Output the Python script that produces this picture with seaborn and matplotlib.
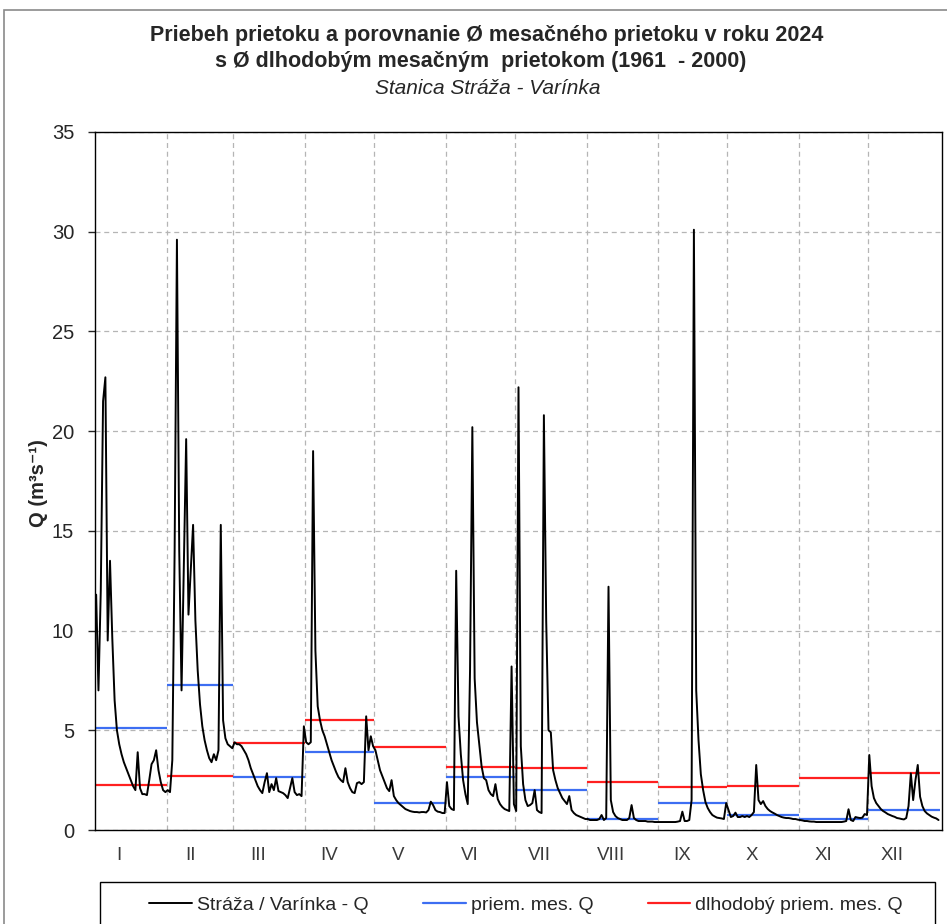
import numpy as np
import pandas as pd
import matplotlib.pyplot as plt
import seaborn as sns
from matplotlib.lines import Line2D
from matplotlib.patches import Rectangle
import matplotlib.transforms as mtransforms

# denne prietoky Q (m3/s), rok 2024
months = ['I', 'II', 'III', 'IV', 'V', 'VI', 'VII', 'VIII', 'IX', 'X', 'XI', 'XII']
days_in_month = [31, 29, 31, 30, 31, 30, 31, 31, 30, 31, 30, 31]

q_jan = [11.8, 7.0, 12.0, 21.5, 22.7, 9.5, 13.5, 9.6, 6.5, 5.0, 4.3, 3.8, 3.4, 3.1, 2.8, 2.5,
         2.2, 2.0, 3.9, 2.1, 1.8, 1.8, 1.75, 2.5, 3.3, 3.5, 4.0, 3.0, 2.4, 2.0, 1.9]
q_feb = [2.0, 1.9, 3.5, 14.0, 29.6, 14.0, 7.0, 13.2, 19.6, 10.8, 13.0, 15.3, 10.5, 8.0, 6.3,
         5.2, 4.5, 4.0, 3.6, 3.4, 3.8, 3.5, 4.0, 15.3, 5.5, 4.6, 4.3, 4.2, 4.1]
q_mar = [4.4, 4.3, 4.3, 4.2, 4.0, 3.8, 3.5, 3.1, 2.8, 2.5, 2.2, 2.0, 1.85, 2.4, 2.85, 1.9,
         2.3, 2.0, 2.6, 1.95, 1.9, 1.85, 1.75, 1.6, 2.1, 2.6, 1.9, 1.75, 1.8, 1.7, 5.2]
q_apr = [4.4, 4.3, 4.4, 19.0, 9.0, 6.2, 5.5, 5.0, 4.7, 4.3, 3.9, 3.5, 3.2, 2.9, 2.65, 2.5,
         2.4, 3.1, 2.4, 2.1, 1.9, 1.85, 2.35, 2.4, 2.3, 2.4, 5.7, 4.0, 4.7, 4.2]
q_may = [4.0, 3.5, 3.0, 2.7, 2.4, 2.1, 1.95, 2.5, 1.7, 1.5, 1.35, 1.25, 1.15, 1.05, 1.0, 0.95,
         0.92, 0.9, 0.9, 0.88, 0.9, 0.9, 0.88, 1.0, 1.42, 1.25, 1.0, 0.92, 0.9, 0.85, 0.85]
q_jun = [2.4, 1.2, 1.05, 1.0, 13.0, 5.7, 3.8, 2.5, 1.8, 1.3, 8.0, 20.2, 7.6, 5.4, 4.3, 3.2,
         2.6, 2.5, 2.0, 1.8, 1.7, 2.3, 1.55, 1.3, 1.15, 1.05, 1.0, 0.95, 8.2, 1.3]
q_jul = [0.95, 22.2, 4.2, 2.3, 1.5, 1.2, 1.25, 1.35, 2.0, 1.0, 0.9, 0.85, 20.8, 10.5, 5.0, 4.9,
         3.0, 2.5, 2.1, 1.85, 1.6, 1.45, 1.3, 1.7, 1.0, 0.85, 0.75, 0.7, 0.65, 0.6, 0.55]
q_aug = [0.55, 0.5, 0.5, 0.5, 0.5, 0.55, 0.75, 0.5, 0.6, 12.2, 1.5, 0.9, 0.7, 0.6, 0.55, 0.5,
         0.5, 0.5, 0.6, 1.25, 0.6, 0.5, 0.45, 0.45, 0.45, 0.45, 0.42, 0.42, 0.42, 0.4, 0.4]
q_sep = [0.4, 0.4, 0.4, 0.4, 0.4, 0.4, 0.4, 0.4, 0.42, 0.45, 0.92, 0.45, 0.45, 0.5, 1.5, 30.1,
         7.0, 4.5, 2.8, 2.0, 1.4, 1.1, 0.9, 0.75, 0.68, 0.62, 0.6, 0.58, 0.55, 1.35]
q_oct = [1.0, 0.65, 0.7, 0.87, 0.65, 0.65, 0.7, 0.65, 0.7, 0.65, 0.75, 0.9, 3.26, 1.5, 1.3, 1.45,
         1.2, 1.05, 0.95, 0.88, 0.82, 0.75, 0.7, 0.65, 0.62, 0.6, 0.6, 0.58, 0.55, 0.55, 0.52]
q_nov = [0.5, 0.48, 0.45, 0.45, 0.43, 0.42, 0.42, 0.4, 0.4, 0.4, 0.4, 0.4, 0.4, 0.4, 0.4, 0.4,
         0.4, 0.4, 0.4, 0.42, 0.45, 1.04, 0.5, 0.45, 0.65, 0.62, 0.6, 0.62, 0.8, 0.75]
q_dec = [3.76, 2.2, 1.6, 1.35, 1.2, 1.05, 0.95, 0.88, 0.8, 0.75, 0.7, 0.66, 0.6, 0.58, 0.55, 0.53,
         0.6, 1.2, 2.84, 1.5, 2.5, 3.26, 1.67, 1.2, 0.95, 0.83, 0.75, 0.67, 0.62, 0.58, 0.5]

# priemerny mesacny prietok 2024 a dlhodoby priemer 1961-2000
priem_mes = [5.12, 7.27, 2.67, 3.93, 1.37, 2.67, 2.0, 0.55, 1.35, 0.75, 0.55, 1.0]
dlhodoby = [2.26, 2.72, 4.36, 5.52, 4.18, 3.17, 3.1, 2.42, 2.16, 2.2, 2.6, 2.86]

q_daily = q_jan + q_feb + q_mar + q_apr + q_may + q_jun + q_jul + q_aug + q_sep + q_oct + q_nov + q_dec
df = pd.DataFrame({'den': np.arange(len(q_daily)) + 0.5, 'Q': q_daily})

ends = np.cumsum(days_in_month)
starts = ends - np.array(days_in_month)

sns.set_style('white')
plt.rcParams['font.family'] = ['Liberation Sans', 'DejaVu Sans']

W, H = 947, 924
fig = plt.figure(figsize=(W / 100, H / 100), dpi=100)
ax = fig.add_axes([95 / W, 94 / H, 847 / W, 698 / H])

ax.hlines(dlhodoby, starts, ends, colors='#ff2020', lw=1.6, zorder=2)
ax.hlines(priem_mes, starts, ends, colors='#3d6ef2', lw=1.6, zorder=2)
sns.lineplot(data=df, x='den', y='Q', color='black', lw=1.4, ax=ax, zorder=3)

ax.set_xlim(0, 367)
ax.set_ylim(0, 35)
ax.set_yticks(range(0, 36, 5))
ax.set_xticks(starts[1:])
ax.grid(True, ls=(0, (4, 3)), color='#b5b5b5', lw=0.9)
ax.tick_params(axis='y', left=True, length=5, width=1, labelsize=14.5, pad=10)
ax.tick_params(axis='x', bottom=False, labelbottom=False)
for s in ax.spines.values():
    s.set_color('black')
    s.set_linewidth(1.0)

ax.set_xlabel('')
ax.set_ylabel('Q (m³s⁻¹)', fontsize=14.5, fontweight='bold')
ax.yaxis.set_label_coords(-0.0555, 0.497)

trans = mtransforms.blended_transform_factory(ax.transData, ax.transAxes)
for i, m in enumerate(months):
    ax.text(starts[i] + 10.5, -25 / 698, m, transform=trans, ha='center', va='center',
            fontsize=13.5, color='#3a3a3a')

fig.text(487 / W, 1 - 35 / H, 'Priebeh prietoku a porovnanie Ø mesačného prietoku v roku 2024',
         ha='center', va='center', fontsize=15.5, fontweight='bold')
fig.text(481 / W, 1 - 62 / H, 's Ø dlhodobým mesačným  prietokom (1961  - 2000)',
         ha='center', va='center', fontsize=15.5, fontweight='bold')
fig.text(488 / W, 1 - 88 / H, 'Stanica Stráža - Varínka', ha='center', va='center',
         fontsize=15, style='italic')

# ramy
fig.patches.append(Rectangle((4 / W, -0.01), 1.0, 1 - 10 / H + 0.01, transform=fig.transFigure,
                             fill=False, edgecolor='#8a8a8a', lw=1.2))
fig.patches.append(Rectangle((100 / W, -0.01), 835 / W, 0.01 + 42 / H, transform=fig.transFigure,
                             fill=False, edgecolor='black', lw=1.0))

handles = [Line2D([], [], color='black', lw=1.4),
           Line2D([], [], color='#3d6ef2', lw=1.6),
           Line2D([], [], color='#ff2020', lw=1.6)]
labels = ['Stráža / Varínka - Q', 'priem. mes. Q', 'dlhodobý priem. mes. Q']
fig.legend(handles, labels, loc='center', bbox_to_anchor=(526 / W, 1 - 905 / H), ncol=3,
           frameon=False, fontsize=14, handlelength=2.2, handletextpad=0.25, columnspacing=2.8)

fig.savefig('out.png', dpi=100, facecolor='white')
